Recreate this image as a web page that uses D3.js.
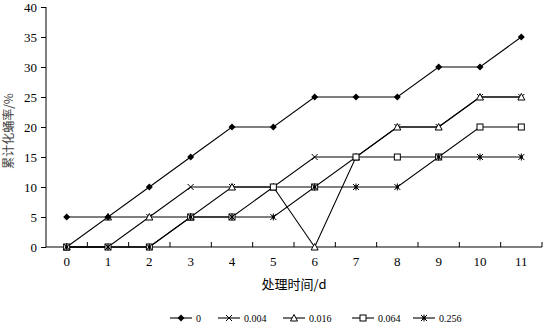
<!DOCTYPE html>
<html><head><meta charset="utf-8">
<script src="https://cdn.jsdelivr.net/npm/d3@7"></script>
<style>body{margin:0;background:#fff}svg{display:block}</style>
</head><body>
<svg id="c" width="545" height="325"></svg>
<script>
const days = [0,1,2,3,4,5,6,7,8,9,10,11];
const seriesNames = ["0","0.004","0.016","0.064","0.256"];
const s0    = [5,5,10,15,20,20,25,25,25,30,30,35];
const s004  = [0,0,5,10,10,10,15,15,20,20,25,25];
const s016  = [0,5,5,5,10,10,0,15,20,20,25,25];
const s064  = [0,0,0,5,5,10,10,15,15,15,20,20];
const s256  = [0,0,0,5,5,5,10,10,10,15,15,15];
const yTicks = [0,5,10,15,20,25,30,35,40];
const xTitle = "处理时间/d";
const yTitle = "累计化蛹率/%";

const allSeries = [s0,s004,s016,s064,s256];
const markers = ["diamond","x","triangle","square","star"];

(function(){
const svg = d3.select("#c");
const font = "'Liberation Serif','Times New Roman',serif";
const pL = 46, pR = 542, pT = 7, pB = 247;

const x = d3.scaleBand().domain(days).range([pL,pR]);
const y = d3.scaleLinear().domain([0,40]).range([pB,pT]);

const ya = svg.append("g").attr("transform",`translate(${pL},0)`)
  .call(d3.axisLeft(y).tickValues(yTicks).tickSize(5).tickPadding(4));
ya.selectAll("text").attr("font-family",font).attr("font-size",13).attr("fill","#000");
ya.selectAll("line,path").attr("stroke","#000");
ya.select(".domain").attr("d",`M0,${pT}V${pB}`);

const xa = svg.append("g").attr("transform",`translate(0,${pB})`)
  .call(d3.axisBottom(x).tickSize(0).tickPadding(10));
xa.selectAll("text").attr("font-family",font).attr("font-size",13).attr("fill","#000");
xa.select(".domain").attr("stroke","#000").attr("d",`M${pL},0H${pR}`);
const bounds = days.map(d=>x(d)).concat([pR]);
xa.selectAll(".btick").data(bounds.slice(1)).enter().append("line")
  .attr("x1",d=>d).attr("x2",d=>d).attr("y1",0).attr("y2",-5).attr("stroke","#000");

svg.append("text").attr("x",294).attr("y",289).attr("text-anchor","middle")
  .attr("font-family","'Noto Sans CJK SC',sans-serif").attr("font-size",13).text(xTitle);
svg.append("text").attr("transform","translate(13,131) rotate(-90)").attr("text-anchor","middle")
  .attr("font-family","'Noto Sans CJK SC',sans-serif").attr("font-size",12).attr("fill","#444").text(yTitle);

const cx = d => x(d) + x.bandwidth()/2;

function drawMarker(g, type, px, py){
  if(type==="diamond"){
    g.append("path").attr("d",`M${px},${py-3.5}L${px+3.5},${py}L${px},${py+3.5}L${px-3.5},${py}Z`).attr("fill","#000");
  } else if(type==="x"){
    g.append("path").attr("d",`M${px-3},${py-3}L${px+3},${py+3}M${px-3},${py+3}L${px+3},${py-3}`).attr("stroke","#000").attr("stroke-width",1);
  } else if(type==="triangle"){
    g.append("path").attr("d",`M${px},${py-3.5}L${px+3.5},${py+3}L${px-3.5},${py+3}Z`).attr("fill","#fff").attr("stroke","#000").attr("stroke-width",1);
  } else if(type==="square"){
    g.append("rect").attr("x",px-3).attr("y",py-3).attr("width",6).attr("height",6).attr("fill","#fff").attr("stroke","#000").attr("stroke-width",1);
  } else if(type==="star"){
    g.append("path").attr("d",`M${px-3},${py-3}L${px+3},${py+3}M${px-3},${py+3}L${px+3},${py-3}M${px},${py-3.5}L${px},${py+3.5}`).attr("stroke","#000").attr("stroke-width",1);
    g.append("rect").attr("x",px-1.5).attr("y",py-1.5).attr("width",3).attr("height",3).attr("fill","#000");
  }
}

const line = d3.line().x((v,i)=>cx(days[i])).y(v=>y(v));
allSeries.forEach((s)=>{
  svg.append("path").attr("d",line(s)).attr("fill","none").attr("stroke","#000").attr("stroke-width",1.1);
});
[1,2,3,4,0].forEach(k=>{
  const g = svg.append("g");
  allSeries[k].forEach((v,i)=>drawMarker(g, markers[k], cx(days[i]), y(v)));
});

const legX = [170,218,283,352,413];
const lg = svg.append("g");
seriesNames.forEach((n,k)=>{
  const ly = 318, lx = legX[k];
  lg.append("line").attr("x1",lx).attr("x2",lx+22).attr("y1",ly).attr("y2",ly).attr("stroke","#000").attr("stroke-width",1.1);
  drawMarker(lg, markers[k], lx+11, ly);
  lg.append("text").attr("x",lx+26).attr("y",ly+3.5).attr("font-family",font).attr("font-size",10).text(n);
});
})();
</script>
</body></html>
